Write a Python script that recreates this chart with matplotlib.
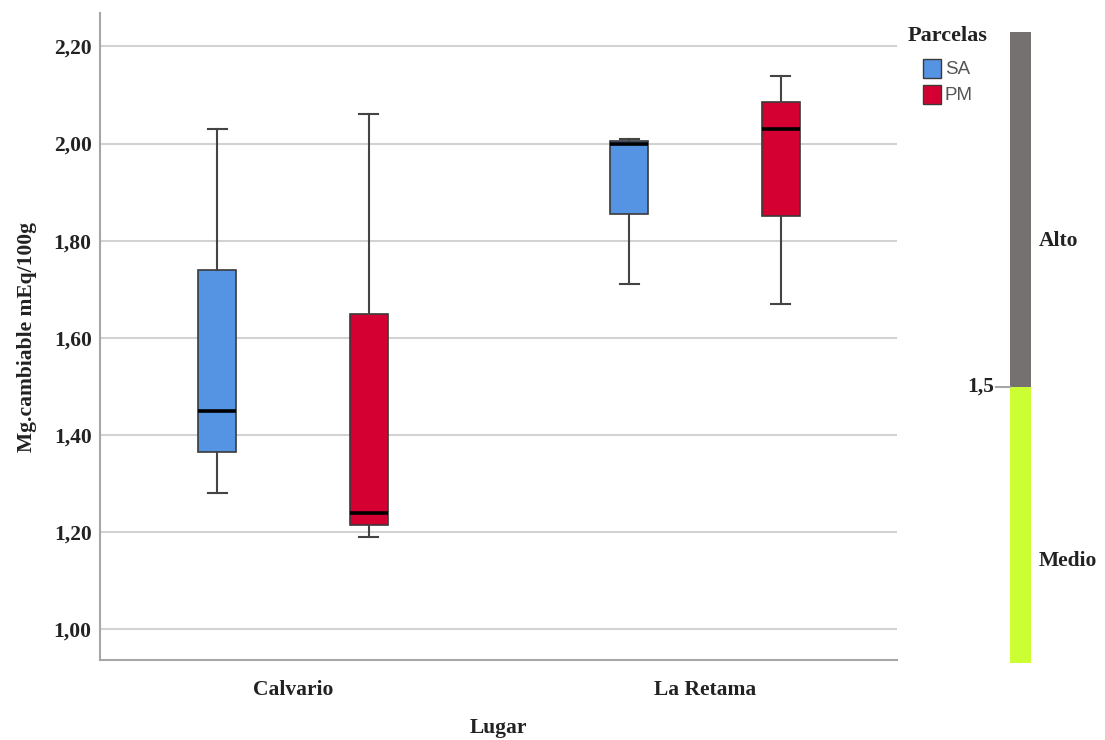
import matplotlib
matplotlib.use('Agg')
import matplotlib.pyplot as plt
from matplotlib.patches import Rectangle
from matplotlib.ticker import FuncFormatter

# data
lugares = ['Calvario', 'La Retama']
parcelas = ['SA', 'PM']
colores = ['#5593e3', '#d50032']

# [whislo, q1, med, q3, whishi] per lugar, per parcela
sa_stats = [[1.28, 1.365, 1.45, 1.74, 2.03],
            [1.71, 1.855, 2.00, 2.005, 2.01]]
pm_stats = [[1.19, 1.215, 1.24, 1.65, 2.06],
            [1.67, 1.85, 2.03, 2.085, 2.14]]

# reference scale on the right
niveles = ['Medio', 'Alto']
limites = [0.93, 1.5, 2.23]
nivel_colores = ['#ccff33', '#767171']

serif = 'Liberation Serif'
sans = 'Liberation Sans'

W, H = 1105, 740
fig = plt.figure(figsize=(W / 100, H / 100), dpi=100)
ax = fig.add_axes([0.0905, 0.108, 0.7213, 0.874])

def make_stats(v):
    return dict(whislo=v[0], q1=v[1], med=v[2], q3=v[3], whishi=v[4], fliers=[])

offset = 0.184
width = 0.092
for serie, color, dx in [(sa_stats, colores[0], -offset), (pm_stats, colores[1], offset)]:
    pos = [i + dx for i in range(len(lugares))]
    ax.bxp([make_stats(v) for v in serie], positions=pos, widths=width,
           patch_artist=True, showfliers=False,
           boxprops=dict(facecolor=color, edgecolor='#3a3a3a', linewidth=1.2),
           medianprops=dict(color='black', linewidth=2.6),
           whiskerprops=dict(color='#444444', linewidth=1.5),
           capprops=dict(color='#444444', linewidth=1.5),
           capwidths=width / 2, zorder=3)

ax.set_xlim(-0.468, 1.466)
ax.set_ylim(0.937, 2.268)
ax.set_yticks([1.0, 1.2, 1.4, 1.6, 1.8, 2.0, 2.2])
ax.yaxis.set_major_formatter(FuncFormatter(lambda v, p: f'{v:.2f}'.replace('.', ',')))
ax.set_xticks(range(len(lugares)))
ax.set_xticklabels(lugares)
ax.grid(axis='y', color='#d2d2d2', linewidth=1.5, zorder=0)
ax.set_axisbelow(True)
for s in ['top', 'right']:
    ax.spines[s].set_visible(False)
for s in ['left', 'bottom']:
    ax.spines[s].set_color('#a6a6a6')
    ax.spines[s].set_linewidth(1.5)
ax.tick_params(axis='both', length=0)
ax.tick_params(axis='y', pad=6)
ax.tick_params(axis='x', pad=14)
for lab in ax.get_xticklabels() + ax.get_yticklabels():
    lab.set_fontfamily(serif)
    lab.set_fontweight('bold')
    lab.set_fontsize(15.5)
    lab.set_color('#222222')

ax.set_ylabel('Mg.cambiable mEq/100g', fontfamily=serif, fontweight='bold',
              fontsize=15.5, color='#222222', labelpad=12)
ax.set_xlabel('Lugar', fontfamily=serif, fontweight='bold', fontsize=15.5,
              color='#222222')
ax.xaxis.label.set_va('center')
ax.xaxis.set_label_coords(0.5, -0.105)

# legend, drawn by hand (title left, items indented)
fig.text(908 / W, 1 - 36 / H, 'Parcelas', ha='left', va='center', fontfamily=serif,
         fontweight='bold', fontsize=16, color='#222222')
for i, (nombre, c) in enumerate(zip(parcelas, colores)):
    y_top = 59 + i * 26
    fig.patches.append(Rectangle((923 / W, 1 - (y_top + 19) / H), 18 / W, 19 / H,
                                 transform=fig.transFigure, facecolor=c,
                                 edgecolor='#3a3a3a', linewidth=1.0))
    fig.text(945 / W, 1 - (y_top + 10) / H, nombre, ha='left', va='center',
             fontfamily=sans, fontsize=13.5, color='#555555')

# reference bar
ax2 = fig.add_axes([0.914, 0.108, 0.019, 0.874], sharey=ax)
for i, nivel in enumerate(niveles):
    ax2.bar(0, limites[i + 1] - limites[i], bottom=limites[i], width=1.0,
            color=nivel_colores[i], clip_on=False)
ax2.set_xlim(-0.5, 0.5)
ax2.axis('off')
ax2.plot([-1.15, -0.5], [limites[1], limites[1]], color='#a6a6a6', lw=1.5, clip_on=False)
ax2.text(-1.25, limites[1], '1,5', ha='right', va='center', fontfamily=serif,
         fontweight='bold', fontsize=15.5, color='#222222')
ax2.text(0.85, 1.80, niveles[1], ha='left', va='center', fontfamily=serif,
         fontweight='bold', fontsize=15.5, color='#222222')
ax2.text(0.85, 1.14, niveles[0], ha='left', va='center', fontfamily=serif,
         fontweight='bold', fontsize=15.5, color='#222222')

fig.savefig('out.png', dpi=100)
